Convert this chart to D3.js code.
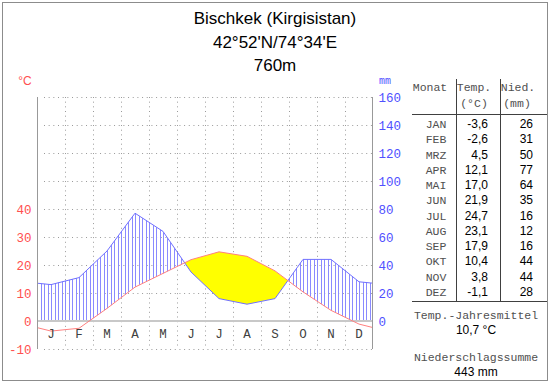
<!DOCTYPE html>
<html><head><meta charset="utf-8">
<script src="https://cdn.jsdelivr.net/npm/d3@7"></script>
<style>
html,body{margin:0;padding:0;background:#fff;}
svg{display:block;}
</style></head>
<body>
<script>
// ---- data ----
const monthLetters = ["J","F","M","A","M","J","J","A","S","O","N","D"];
const monthNames = ["JAN","FEB","MRZ","APR","MAI","JUN","JUL","AUG","SEP","OKT","NOV","DEZ"];
const temperature = [-3.6,-2.6,4.5,12.1,17.0,21.9,24.7,23.1,17.9,10.4,3.8,-1.1];
const precipitation = [26,31,50,77,64,35,16,12,16,44,44,28];
const tempTicks = [-10,0,10,20,30,40];
const precipTicks = [0,20,40,60,80,100,120,140,160];
const titleLines = ["Bischkek (Kirgisistan)","42°52'N/74°34'E","760m"];
const annualMeanTemp = "10,7 °C";
const annualPrecip = "443 mm";

const W=550,H=384;
const svg=d3.select("body").append("svg").attr("width",W).attr("height",H);
const mono='"Courier New","Liberation Mono","DejaVu Sans Mono",monospace';
const sans='Arial,"Liberation Sans",Helvetica,sans-serif';

// frame
svg.append("rect").attr("x",2.5).attr("y",2.5).attr("width",545).attr("height",378)
  .attr("fill","none").attr("stroke","#8c8c8c");

// title
svg.selectAll("text.title").data(titleLines).enter().append("text")
  .attr("x",275).attr("y",(d,i)=>24+i*23.5).attr("text-anchor","middle")
  .attr("font-family",sans).attr("font-size",17).attr("fill","#000").text(d=>d);

// scales
const L=37,R=373;
const x=d3.scaleLinear().domain([0,12]).range([L,R]);
const tY=d3.scaleLinear().domain([-10,80]).range([349,97]);
const pY=d3.scaleLinear().domain([0,160]).range([321,97]);
const band=d3.scaleBand().domain(d3.range(12)).range([L,R]);

// extended series (edges = mean of Dec and Jan)
const edgeT=(temperature[0]+temperature[11])/2;
const edgeP=(precipitation[0]+precipitation[11])/2;
const pts=[{m:0,t:edgeT,p:edgeP}]
  .concat(temperature.map((t,i)=>({m:i+0.5,t:t,p:precipitation[i]})))
  .concat([{m:12,t:edgeT,p:edgeP}]);

// grid
const grid=svg.append("g").attr("stroke","#9a9a9a").attr("stroke-width",1).attr("stroke-dasharray","1,3.67");
grid.selectAll("line.h").data(d3.range(-10,81,10)).enter().append("line")
  .attr("x1",L+7).attr("x2",R).attr("y1",d=>Math.round(tY(d))+0.5).attr("y2",d=>Math.round(tY(d))+0.5);
grid.selectAll("line.v").data(d3.range(1,12)).enter().append("line")
  .attr("x1",d=>Math.round(x(d))+0.5).attr("x2",d=>Math.round(x(d))+0.5).attr("y1",97).attr("y2",349);

// clip paths
const defs=svg.append("defs");
defs.append("clipPath").attr("id","belowTemp").append("path")
  .attr("d",d3.area().x(d=>x(d.m)).y0(400).y1(d=>tY(d.t))(pts));
defs.append("clipPath").attr("id","aboveTemp").append("path")
  .attr("d",d3.area().x(d=>x(d.m)).y0(0).y1(d=>tY(d.t))(pts));
defs.append("clipPath").attr("id","precipToZero").append("path")
  .attr("d",d3.area().x(d=>x(d.m)).y0(pY(0)).y1(d=>pY(d.p))(pts));

// yellow arid area: below temp line and above precip line
svg.append("g").attr("clip-path","url(#belowTemp)").append("path")
  .attr("d",d3.area().x(d=>x(d.m)).y0(0).y1(d=>pY(d.p))(pts))
  .attr("fill","#ffff00");

// humid hatching
const hatch=svg.append("g").attr("clip-path","url(#precipToZero)")
  .append("g").attr("clip-path","url(#aboveTemp)");
hatch.selectAll("line").data(d3.range(0,97)).enter().append("line")
  .attr("x1",k=>Math.round(L+3.5*k)+0.5).attr("x2",k=>Math.round(L+3.5*k)+0.5)
  .attr("y1",90).attr("y2",330).attr("stroke","#8a8aff").attr("stroke-width",1);

// zero line
svg.append("line").attr("x1",L).attr("x2",R).attr("y1",pY(0)).attr("y2",pY(0))
  .attr("stroke","#c8c8c8").attr("stroke-width",2);

// lines
svg.append("path").attr("d",d3.line().x(d=>x(d.m)).y(d=>pY(d.p))(pts))
  .attr("fill","none").attr("stroke","#7070ff").attr("stroke-width",1);
svg.append("path").attr("d",d3.line().x(d=>x(d.m)).y(d=>tY(d.t))(pts))
  .attr("fill","none").attr("stroke","#ff8080").attr("stroke-width",1);

// axes
const la=svg.append("g").attr("transform",`translate(${L+0.5},0)`)
  .call(d3.axisLeft(tY).tickValues(tempTicks).tickSize(0).tickPadding(6).tickFormat(d=>d));
la.select(".domain").attr("stroke","#999").attr("d","M0,97V349");
la.selectAll("text").attr("font-family",mono).attr("font-size",12.5).attr("fill","#ff5050");

const ra=svg.append("g").attr("transform",`translate(${R-0.5},0)`)
  .call(d3.axisRight(pY).tickValues(precipTicks).tickSize(0).tickPadding(6));
ra.select(".domain").attr("stroke","#999").attr("d","M0,97V349");
ra.selectAll("text").attr("font-family",mono).attr("font-size",12.5).attr("fill","#5050ff");

const ma=svg.append("g").attr("transform",`translate(0,${pY(0)})`)
  .call(d3.axisBottom(band).tickSize(0).tickPadding(8).tickFormat(i=>monthLetters[i]));
ma.select(".domain").remove();
ma.selectAll("text").attr("font-family",mono).attr("font-size",12.5).attr("fill","#404040");

svg.append("text").attr("x",25).attr("y",85).attr("text-anchor","middle")
  .attr("font-family",sans).attr("font-size",12).attr("fill","#ff5050").text("°C");
svg.append("text").attr("x",385).attr("y",84).attr("text-anchor","middle")
  .attr("font-family",mono).attr("font-size",10).attr("fill","#5050ff").text("mm");

// table
const tb=svg.append("g");
const lineC="#404040";
tb.append("line").attr("x1",456.5).attr("x2",456.5).attr("y1",79).attr("y2",301).attr("stroke",lineC);
tb.append("line").attr("x1",500.5).attr("x2",500.5).attr("y1",79).attr("y2",301).attr("stroke",lineC);
tb.append("line").attr("x1",412).attr("x2",547).attr("y1",114.5).attr("y2",114.5).attr("stroke",lineC);
tb.append("line").attr("x1",412).attr("x2",547).attr("y1",301.5).attr("y2",301.5).attr("stroke",lineC);
const hdr=[["Monat",430,91],["Temp.",474,91],["(°C)",474,107],["Nied.",518,91],["(mm)",517,107]];
tb.selectAll("text.h").data(hdr).enter().append("text")
  .attr("x",d=>d[1]).attr("y",d=>d[2]).attr("text-anchor","middle")
  .attr("font-family",mono).attr("font-size",11.5).attr("fill","#505050").text(d=>d[0]);
const rowY=i=>128+i*15.25;
tb.selectAll("text.m").data(monthNames).enter().append("text")
  .attr("x",436).attr("y",(d,i)=>rowY(i)).attr("text-anchor","middle")
  .attr("font-family",mono).attr("font-size",11.5).attr("fill","#505050").text(d=>d);
const fmt=v=>v.toFixed(1).replace(".",",");
tb.selectAll("text.t").data(temperature).enter().append("text")
  .attr("x",488).attr("y",(d,i)=>rowY(i)).attr("text-anchor","end")
  .attr("font-family",sans).attr("font-size",12).attr("fill","#000").text(d=>fmt(d));
tb.selectAll("text.p").data(precipitation).enter().append("text")
  .attr("x",533).attr("y",(d,i)=>rowY(i)).attr("text-anchor","end")
  .attr("font-family",sans).attr("font-size",12).attr("fill","#000").text(d=>d);

const foot=[["Temp.-Jahresmittel",319,mono,"#505050",11.5],[annualMeanTemp,334,sans,"#000",12],
  ["Niederschlagssumme",361,mono,"#505050",11.5],[annualPrecip,376,sans,"#000",12]];
tb.selectAll("text.f").data(foot).enter().append("text")
  .attr("x",476).attr("y",d=>d[1]).attr("text-anchor","middle")
  .attr("font-family",d=>d[2]).attr("font-size",d=>d[4]).attr("fill",d=>d[3]).text(d=>d[0]);
</script>
</body></html>
